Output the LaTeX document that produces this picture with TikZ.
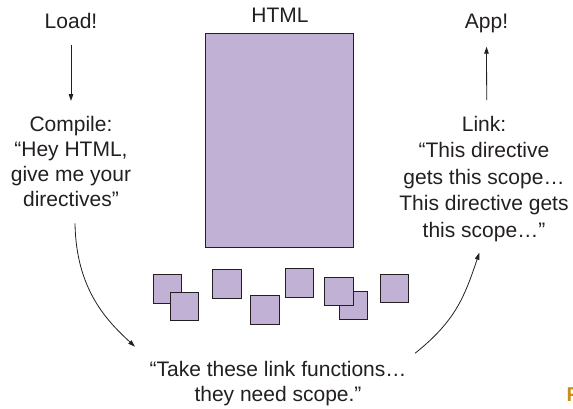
\documentclass[tikz,border=0pt]{standalone}
\usepackage{fontspec}
\setmainfont{Liberation Sans}
\usetikzlibrary{arrows.meta}
\definecolor{ink}{HTML}{231F20}
\definecolor{lilac}{RGB}{193,177,212}
\definecolor{figgold}{RGB}{200,142,22}
\tikzset{
  txt/.style={anchor=north, inner sep=0pt, align=center, text=ink,
    font=\fontsize{21}{25}\selectfont},
  page/.style={draw=ink, line width=1pt, fill=lilac, inner sep=0pt},
  flow/.style={draw=ink, line width=0.8pt, -{Triangle[length=7pt,width=4.5pt]}}
}

\begin{document}
\begin{tikzpicture}[x=1pt, y=-1pt]
    \useasboundingbox (0,0) rectangle (573,408);
    \node[txt] (load) at (71,13.2) {Load!};
    \node[txt] (compile) at (71,116.2) {Compile:\\“Hey HTML,\\give me your\\directives”};
    \node[txt] (html) at (280,8.3) {HTML};
    \node[page, minimum width=148pt, minimum height=214pt] (htmlpage) at (279,140) {};
    \node[txt] (app) at (486.5,14) {App!};
    \node[txt, font=\fontsize{21}{26.5}\selectfont] (link) at (484,115.7) {Link:\\“This directive\\gets this scope…\\This directive gets\\this scope…”};
    \node[txt] (take) at (278,361.2) {“Take these link functions…\\they need scope.”};
    % scattered directives
    \foreach \name/\pos in {sq1/{(167.5,289)}, sq2/{(184.5,306.5)}, sq3/{(227,284)},
        sq4/{(265,310)}, sq5/{(299.5,283)}, sq7/{(353.5,305.5)},
        sq6/{(339,291.5)}, sq8/{(394.5,288.5)}}
        \node[page, minimum size=28.5pt] (\name) at \pos {};
    \draw[flow] ([shift={(0,31.8)}]load.north) -- ([shift={(0,-15.2)}]compile.north);
    \draw[flow] ([shift={(2.7,-15.7)}]link.north) -- ([shift={(0,32.7)}]app.north);
    \draw[flow] ([shift={(4,107.1)}]compile.north) .. controls +(1,67) and +(-27,-25) .. ([shift={(-143,-14.5)}]take.north);
    \draw[flow] ([shift={(137,-7.9)}]take.north) .. controls +(40,-32) and +(-15,45) .. ([shift={(-4.7,137)}]link.north);
    \node[anchor=base west, inner sep=0pt, text=figgold, font=\fontsize{20}{24}\selectfont\bfseries] (fig) at (566.5,401.7) {F};
\end{tikzpicture}
\end{document}
